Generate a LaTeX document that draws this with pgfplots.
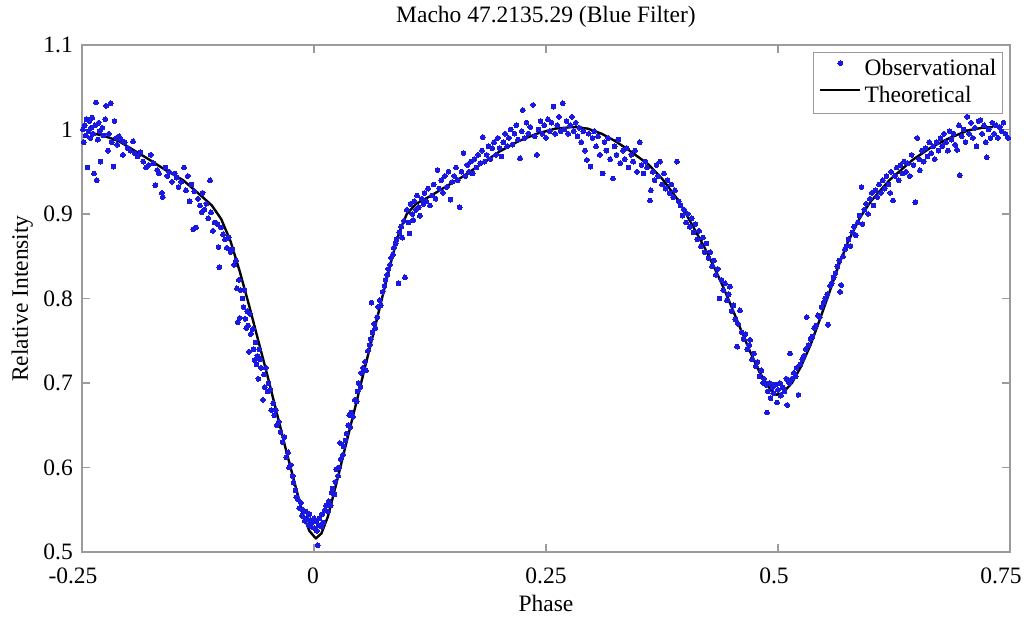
\documentclass[border=0pt]{standalone}
\usepackage{pgfplots}
\pgfplotsset{compat=1.18}
\usepackage{fontspec}
\setmainfont{Liberation Serif}
\definecolor{obsblue}{RGB}{25,25,225}
\definecolor{axgray}{RGB}{155,155,155}
\pgfplotsset{
  obsleg/.style={legend image code/.code={\draw[mark repeat=2,mark phase=2,##1] plot coordinates {(0bp,6.5bp) (20bp,6.5bp) (40bp,6.5bp)};}},
  theoleg/.style={legend image code/.code={\draw[##1] (0bp,6.5bp) -- (40bp,6.5bp);}},
}
\pgfplotstableread{
x y
-0.249 1.000
-0.248 0.985
-0.247 1.005
-0.246 0.993
-0.245 1.012
-0.244 0.955
-0.243 0.998
-0.242 1.010
-0.241 0.990
-0.240 1.002
-0.239 1.014
-0.238 0.995
-0.237 0.948
-0.236 1.005
-0.235 1.032
-0.234 0.940
-0.233 0.988
-0.232 1.008
-0.231 0.998
-0.230 0.962
-0.228 1.002
-0.227 0.993
-0.225 1.012
-0.224 1.028
-0.222 0.975
-0.221 0.995
-0.219 1.031
-0.218 0.985
-0.216 0.956
-0.215 1.010
-0.213 0.990
-0.212 0.982
-0.210 0.992
-0.208 0.988
-0.206 0.970
-0.204 0.985
-0.201 0.978
-0.198 0.975
-0.195 0.986
-0.193 0.972
-0.190 0.968
-0.187 0.973
-0.184 0.962
-0.181 0.955
-0.178 0.958
-0.176 0.970
-0.173 0.960
-0.171 0.934
-0.169 0.952
-0.167 0.948
-0.164 0.925
-0.163 0.920
-0.160 0.955
-0.158 0.945
-0.156 0.950
-0.153 0.938
-0.150 0.948
-0.148 0.943
-0.146 0.932
-0.143 0.938
-0.140 0.955
-0.138 0.928
-0.136 0.945
-0.134 0.915
-0.132 0.935
-0.130 0.882
-0.129 0.927
-0.127 0.884
-0.125 0.918
-0.123 0.910
-0.121 0.902
-0.120 0.925
-0.118 0.905
-0.116 0.912
-0.114 0.895
-0.112 0.940
-0.111 0.902
-0.109 0.880
-0.107 0.890
-0.104 0.888
-0.103 0.861
-0.102 0.837
-0.100 0.884
-0.098 0.876
-0.096 0.870
-0.094 0.860
-0.092 0.872
-0.090 0.855
-0.088 0.858
-0.086 0.840
-0.084 0.845
-0.083 0.812
-0.082 0.772
-0.081 0.822
-0.080 0.777
-0.079 0.810
-0.077 0.800
-0.076 0.790
-0.075 0.810
-0.074 0.776
-0.073 0.765
-0.072 0.785
-0.071 0.768
-0.070 0.737
-0.069 0.782
-0.068 0.758
-0.066 0.764
-0.065 0.740
-0.064 0.727
-0.063 0.748
-0.062 0.722
-0.061 0.732
-0.060 0.705
-0.059 0.740
-0.058 0.728
-0.057 0.718
-0.055 0.680
-0.054 0.710
-0.053 0.695
-0.052 0.718
-0.050 0.690
-0.049 0.700
-0.047 0.692
-0.046 0.668
-0.044 0.676
-0.043 0.662
-0.041 0.668
-0.040 0.650
-0.038 0.654
-0.036 0.642
-0.034 0.630
-0.032 0.636
-0.030 0.612
-0.028 0.618
-0.027 0.600
-0.025 0.603
-0.023 0.590
-0.022 0.582
-0.020 0.573
-0.019 0.565
-0.017 0.562
-0.016 0.552
-0.014 0.558
-0.013 0.543
-0.012 0.550
-0.010 0.537
-0.009 0.548
-0.008 0.540
-0.006 0.532
-0.005 0.545
-0.004 0.538
-0.003 0.530
-0.002 0.535
0.000 0.540
0.001 0.528
0.002 0.536
0.003 0.525
0.004 0.508
0.005 0.532
0.006 0.540
0.008 0.530
0.009 0.545
0.010 0.535
0.012 0.550
0.013 0.555
0.015 0.548
0.016 0.560
0.018 0.555
0.019 0.570
0.020 0.575
0.022 0.568
0.023 0.583
0.024 0.598
0.026 0.590
0.027 0.600
0.028 0.629
0.029 0.610
0.031 0.615
0.032 0.625
0.034 0.632
0.035 0.640
0.037 0.650
0.038 0.662
0.039 0.648
0.040 0.665
0.042 0.660
0.044 0.680
0.046 0.678
0.047 0.690
0.048 0.700
0.050 0.695
0.051 0.712
0.053 0.718
0.055 0.725
0.056 0.715
0.058 0.738
0.060 0.745
0.061 0.752
0.062 0.795
0.063 0.760
0.065 0.770
0.066 0.765
0.068 0.778
0.069 0.790
0.071 0.798
0.072 0.792
0.074 0.808
0.076 0.815
0.077 0.822
0.079 0.828
0.080 0.835
0.082 0.840
0.083 0.848
0.085 0.852
0.086 0.860
0.088 0.865
0.089 0.870
0.091 0.818
0.092 0.878
0.094 0.885
0.095 0.872
0.097 0.892
0.098 0.825
0.100 0.905
0.102 0.890
0.103 0.877
0.104 0.912
0.106 0.900
0.107 0.893
0.108 0.915
0.110 0.905
0.111 0.922
0.113 0.908
0.114 0.898
0.116 0.918
0.118 0.912
0.119 0.925
0.121 0.915
0.123 0.930
0.125 0.910
0.127 0.922
0.129 0.935
0.131 0.918
0.133 0.952
0.135 0.930
0.137 0.940
0.139 0.925
0.141 0.945
0.143 0.932
0.145 0.950
0.147 0.917
0.149 0.938
0.151 0.945
0.153 0.955
0.155 0.940
0.157 0.908
0.159 0.950
0.161 0.972
0.163 0.945
0.165 0.958
0.167 0.950
0.169 0.962
0.171 0.948
0.173 0.965
0.175 0.955
0.177 0.970
0.179 0.960
0.181 0.975
0.182 0.991
0.184 0.962
0.186 0.970
0.188 0.980
0.190 0.965
0.192 0.978
0.194 0.985
0.196 0.970
0.198 0.990
0.200 0.978
0.202 0.968
0.204 0.985
0.206 0.995
0.208 0.980
0.210 0.990
0.212 1.000
0.214 0.982
0.216 0.995
0.218 1.005
0.220 0.988
0.222 0.966
0.224 0.998
0.225 1.023
0.227 0.990
0.229 1.008
0.231 0.995
0.233 1.003
0.236 1.029
0.238 0.992
0.240 0.970
0.242 1.000
0.244 1.010
0.246 0.995
0.248 1.005
0.250 0.990
0.252 1.012
0.254 0.998
0.256 1.008
0.258 1.027
0.260 0.995
0.262 1.005
0.264 1.015
0.266 0.998
0.268 1.031
0.270 1.000
0.272 1.010
0.274 0.995
0.276 1.005
0.278 1.015
0.280 0.998
0.282 1.008
0.284 0.992
0.286 1.002
0.288 0.985
0.290 0.998
0.292 0.975
0.294 0.964
0.296 0.995
0.298 0.956
0.300 0.990
0.302 0.998
0.304 0.980
0.306 0.992
0.308 0.970
0.311 0.948
0.313 0.985
0.315 0.975
0.317 0.990
0.319 0.965
0.322 0.942
0.324 0.980
0.326 0.970
0.328 0.988
0.330 0.960
0.333 0.975
0.335 0.965
0.337 0.978
0.339 0.955
0.342 0.970
0.344 0.962
0.346 0.975
0.348 0.950
0.351 0.985
0.353 0.958
0.355 0.948
0.357 0.962
0.359 0.955
0.362 0.916
0.363 0.928
0.365 0.950
0.367 0.940
0.369 0.958
0.371 0.945
0.373 0.962
0.375 0.935
0.377 0.948
0.379 0.930
0.381 0.940
0.383 0.925
0.385 0.935
0.387 0.920
0.389 0.928
0.391 0.962
0.393 0.915
0.395 0.910
0.397 0.898
0.399 0.905
0.401 0.890
0.403 0.900
0.405 0.885
0.407 0.895
0.409 0.878
0.411 0.888
0.413 0.870
0.415 0.880
0.417 0.862
0.419 0.872
0.421 0.855
0.423 0.865
0.425 0.848
0.427 0.855
0.429 0.838
0.431 0.845
0.433 0.828
0.435 0.835
0.437 0.800
0.439 0.822
0.441 0.810
0.443 0.818
0.445 0.798
0.447 0.805
0.448 0.814
0.450 0.785
0.452 0.792
0.454 0.775
0.456 0.743
0.457 0.770
0.459 0.786
0.461 0.760
0.463 0.752
0.465 0.758
0.467 0.740
0.469 0.745
0.470 0.751
0.472 0.728
0.474 0.735
0.476 0.720
0.478 0.725
0.480 0.708
0.482 0.715
0.484 0.700
0.485 0.705
0.487 0.698
0.488 0.665
0.489 0.690
0.491 0.700
0.492 0.682
0.494 0.695
0.495 0.688
0.497 0.698
0.499 0.677
0.500 0.692
0.502 0.700
0.503 0.685
0.505 0.695
0.507 0.690
0.509 0.705
0.510 0.674
0.512 0.700
0.513 0.735
0.515 0.705
0.517 0.712
0.519 0.708
0.520 0.718
0.522 0.686
0.524 0.722
0.526 0.728
0.528 0.732
0.530 0.740
0.531 0.778
0.533 0.745
0.535 0.752
0.537 0.755
0.539 0.765
0.541 0.768
0.543 0.780
0.545 0.778
0.547 0.790
0.549 0.795
0.551 0.800
0.553 0.805
0.554 0.769
0.556 0.815
0.558 0.818
0.560 0.825
0.562 0.830
0.564 0.838
0.566 0.845
0.567 0.808
0.568 0.816
0.570 0.850
0.572 0.858
0.574 0.862
0.576 0.870
0.578 0.862
0.580 0.878
0.582 0.885
0.584 0.875
0.586 0.890
0.588 0.898
0.590 0.932
0.591 0.888
0.593 0.905
0.595 0.912
0.597 0.900
0.599 0.918
0.601 0.925
0.603 0.910
0.605 0.928
0.607 0.920
0.609 0.935
0.611 0.925
0.613 0.940
0.615 0.930
0.617 0.945
0.619 0.935
0.621 0.925
0.622 0.950
0.624 0.916
0.626 0.945
0.628 0.955
0.630 0.940
0.632 0.958
0.634 0.948
0.636 0.962
0.638 0.950
0.640 0.960
0.642 0.945
0.644 0.970
0.646 0.958
0.648 0.914
0.650 0.990
0.652 0.965
0.653 0.952
0.655 0.975
0.657 0.962
0.659 0.978
0.661 0.968
0.663 0.985
0.665 0.972
0.667 0.980
0.669 0.965
0.671 0.985
0.673 0.975
0.675 0.990
0.677 0.980
0.679 0.995
0.681 0.985
0.683 0.975
0.685 0.998
0.687 0.988
0.689 0.995
0.691 0.982
0.693 0.976
0.695 1.005
0.696 0.946
0.698 0.992
0.700 1.000
0.702 0.985
0.704 1.015
0.706 0.995
0.708 1.008
0.710 0.990
0.712 1.002
0.714 0.980
0.716 1.010
0.718 1.011
0.720 0.995
0.722 1.005
0.724 0.985
0.725 0.967
0.727 1.000
0.729 0.990
0.731 1.008
0.733 0.995
0.735 1.005
0.737 0.990
0.739 1.003
0.741 0.998
0.743 1.008
0.745 0.995
0.748 0.990
}\obsdata
\pgfplotstableread{
x y
-0.240 0.996
-0.225 0.992
-0.210 0.986
-0.195 0.976
-0.177 0.964
-0.160 0.952
-0.141 0.940
-0.120 0.920
-0.110 0.910
-0.100 0.894
-0.090 0.868
-0.080 0.832
-0.070 0.792
-0.060 0.750
-0.050 0.708
-0.040 0.664
-0.030 0.620
-0.020 0.578
-0.012 0.545
-0.005 0.525
0.002 0.516
0.008 0.522
0.015 0.542
0.025 0.585
0.035 0.630
0.045 0.674
0.055 0.719
0.065 0.763
0.075 0.808
0.085 0.852
0.093 0.882
0.100 0.900
0.110 0.912
0.125 0.921
0.140 0.931
0.160 0.944
0.180 0.959
0.200 0.974
0.220 0.986
0.240 0.995
0.260 1.001
0.280 1.003
0.295 1.001
0.310 0.995
0.325 0.986
0.340 0.975
0.360 0.959
0.375 0.942
0.390 0.920
0.400 0.902
0.410 0.882
0.420 0.862
0.430 0.840
0.440 0.816
0.450 0.790
0.460 0.763
0.470 0.737
0.480 0.713
0.490 0.695
0.498 0.686
0.505 0.688
0.515 0.700
0.525 0.720
0.535 0.745
0.545 0.775
0.555 0.806
0.565 0.838
0.575 0.866
0.588 0.895
0.600 0.915
0.620 0.940
0.645 0.964
0.665 0.979
0.685 0.990
0.705 0.999
0.720 1.002
0.732 1.003
}\theodata
\begin{document}
\begin{tikzpicture}
\useasboundingbox (-82bp,-67bp) rectangle (945bp,552bp);
\begin{axis}[
  scale only axis, width=928bp, height=507bp,
  at={(0,0)}, anchor=south west,
  xmin=-0.25, xmax=0.75, ymin=0.5, ymax=1.1,
  xtick={-0.25,0,0.25,0.5,0.75},
  xticklabels={-0.25\kern18bp,0\kern2bp,0.25,0.5\kern8bp,0.75\kern18bp},
  ytick={0.5,0.6,0.7,0.8,0.9,1.0,1.1},
  yticklabels={0.5,0.6,0.7,0.8,0.9,1,1.1},
  tick align=inside, major tick length=8bp,
  axis line style={axgray, line width=1.6bp},
  major tick style={axgray, line width=1.4bp},
  tick label style={font=\fontsize{23.5bp}{28bp}\selectfont, text=black},
  xticklabel style={anchor=base, yshift=-31bp, inner sep=0pt},
  yticklabel style={anchor=east, xshift=-9bp, inner sep=0pt},
  title={Macho 47.2135.29 (Blue Filter)},
  title style={at={(axis description cs:0.5,1.0316)}, anchor=base, inner sep=0pt, font=\fontsize{23.5bp}{28bp}\selectfont},
  xlabel={Phase},
  xlabel style={at={(axis description cs:0.5,-0.1183)}, anchor=base, inner sep=0pt, font=\fontsize{23.5bp}{28bp}\selectfont},
  ylabel={Relative Intensity},
  ylabel style={at={(axis description cs:-0.0582,0.5)}, anchor=base, inner sep=0pt, font=\fontsize{23.5bp}{28bp}\selectfont},
  legend style={at={(axis description cs:1,1)}, anchor=north east, xshift=-7bp, yshift=-7bp,
    draw=axgray, line width=1.2bp, font=\fontsize{23.5bp}{28bp}\selectfont,
    inner xsep=6bp, inner ysep=6bp, row sep=5bp, column sep=3bp,
    nodes={inner sep=0pt, text height=17bp, text depth=5bp}},
  legend cell align=left,
]
\addplot[only marks, mark=*, mark size=2.4bp, color=obsblue, mark options={draw=obsblue, fill=obsblue, line width=0pt}, obsleg]
  table {\obsdata};
\addlegendentry{Observational}
\addplot[black, line width=2.4bp, line join=round, theoleg]
  table {\theodata};
\addlegendentry{Theoretical}
\end{axis}
\end{tikzpicture}
\end{document}
